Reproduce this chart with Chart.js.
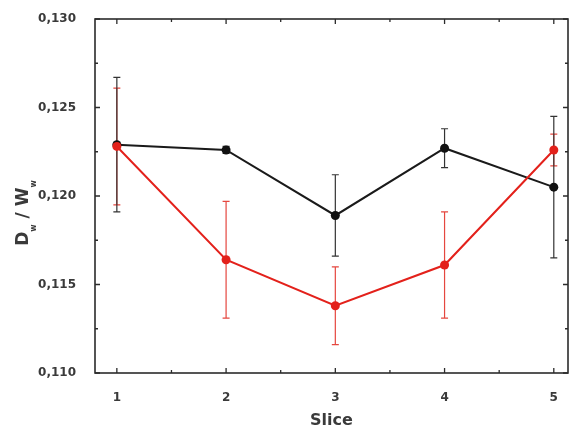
<!DOCTYPE html>
<html>
<head>
<meta charset="utf-8">
<script src="https://cdn.jsdelivr.net/npm/chart.js@4/dist/chart.umd.min.js"></script>
<style>
  html, body { margin: 0; padding: 0; background: #fff; overflow: hidden; }
  canvas { display: block; }
</style>
</head>
<body>
<canvas id="sliceChart" width="569" height="430"></canvas>
<script>
// slice positions and tick values
const slices = [1, 2, 3, 4, 5];
const xTicks = [1, 2, 3, 4, 5];
const yTicks = [0.110, 0.115, 0.120, 0.125, 0.130];

// black series: mean and half-width of the error bar
const blackMean = [0.1229, 0.1226, 0.1189, 0.1227, 0.1205];
const blackErr = [0.0038, 0.0002, 0.0023, 0.0011, 0.0040];

// red series
const redMean = [0.1228, 0.1164, 0.1138, 0.1161, 0.1226];
const redErr = [0.0033, 0.0033, 0.0022, 0.0030, 0.0009];

const AXIS = '#2b2b2b';
const TEXT = '#3a3a3a';
const FONT = '"DejaVu Sans", Verdana, sans-serif';

const toPoints = (xs, ys) => xs.map((x, i) => ({ x: x, y: ys[i] }));

// error bars, frame, inward ticks and the y title
const framePlugin = {
  id: 'frame',
  beforeDatasetsDraw(chart) {
    const ctx = chart.ctx;
    const xs = chart.scales.x, ys = chart.scales.y;
    chart.data.datasets.forEach(ds => {
      ctx.save();
      ctx.strokeStyle = ds.errColor;
      ctx.lineWidth = 1.2;
      ds.data.forEach((p, i) => {
        const px = xs.getPixelForValue(p.x);
        const top = ys.getPixelForValue(p.y + ds.errors[i]);
        const bot = ys.getPixelForValue(p.y - ds.errors[i]);
        ctx.beginPath();
        ctx.moveTo(px, top); ctx.lineTo(px, bot);
        ctx.moveTo(px - 3.5, top); ctx.lineTo(px + 3.5, top);
        ctx.moveTo(px - 3.5, bot); ctx.lineTo(px + 3.5, bot);
        ctx.stroke();
      });
      ctx.restore();
    });
  },
  afterDraw(chart) {
    const ctx = chart.ctx;
    const a = chart.chartArea;
    const xs = chart.scales.x, ys = chart.scales.y;
    ctx.save();
    ctx.strokeStyle = AXIS;
    ctx.lineWidth = 1.6;
    ctx.strokeRect(a.left, a.top, a.right - a.left, a.bottom - a.top);

    ctx.lineWidth = 1.3;
    ctx.beginPath();
    xTicks.forEach((v, i) => {
      const px = xs.getPixelForValue(v);
      ctx.moveTo(px, a.bottom); ctx.lineTo(px, a.bottom - 5);
      ctx.moveTo(px, a.top); ctx.lineTo(px, a.top + 5);
      if (i < xTicks.length - 1) {
        const mx = xs.getPixelForValue((v + xTicks[i + 1]) / 2);
        ctx.moveTo(mx, a.bottom); ctx.lineTo(mx, a.bottom - 3);
        ctx.moveTo(mx, a.top); ctx.lineTo(mx, a.top + 3);
      }
    });
    yTicks.forEach((v, i) => {
      const py = ys.getPixelForValue(v);
      ctx.moveTo(a.left, py); ctx.lineTo(a.left + 5, py);
      ctx.moveTo(a.right, py); ctx.lineTo(a.right - 5, py);
      if (i < yTicks.length - 1) {
        const my = ys.getPixelForValue((v + yTicks[i + 1]) / 2);
        ctx.moveTo(a.left, my); ctx.lineTo(a.left + 3, my);
        ctx.moveTo(a.right, my); ctx.lineTo(a.right - 3, my);
      }
    });
    ctx.stroke();

    // rotated y title: D_w / W_w
    const parts = [
      { t: 'D', sub: false }, { t: 'w', sub: true },
      { t: ' / ', sub: false }, { t: 'W', sub: false }, { t: 'w', sub: true }
    ];
    const big = 'bold 17px ' + FONT;
    const small = 'bold 8px ' + FONT;
    let total = 0;
    parts.forEach(p => { ctx.font = p.sub ? small : big; p.w = ctx.measureText(p.t).width; total += p.w; });
    ctx.translate(28, 213);
    ctx.rotate(-Math.PI / 2);
    ctx.fillStyle = TEXT;
    ctx.textBaseline = 'alphabetic';
    let x = -total / 2;
    parts.forEach(p => {
      ctx.font = p.sub ? small : big;
      ctx.fillText(p.t, x, p.sub ? 8 : 0);
      x += p.w;
    });
    ctx.restore();
  }
};

new Chart(document.getElementById('sliceChart'), {
  type: 'scatter',
  data: {
    datasets: [
      {
        label: 'red',
        data: toPoints(slices, redMean),
        errors: redErr,
        errColor: '#e5473f',
        showLine: true,
        borderColor: '#e3211b',
        backgroundColor: '#e3211b',
        borderWidth: 2,
        pointRadius: 4.5,
        pointBorderWidth: 0
      },
      {
        label: 'black',
        data: toPoints(slices, blackMean),
        errors: blackErr,
        errColor: '#333333',
        showLine: true,
        borderColor: '#1a1a1a',
        backgroundColor: '#111111',
        borderWidth: 2,
        pointRadius: 4.5,
        pointBorderWidth: 0
      }
    ]
  },
  options: {
    responsive: false,
    animation: false,
    layout: { autoPadding: false, padding: { left: 0, top: 19, right: 1, bottom: 0 } },
    plugins: { legend: { display: false }, tooltip: { enabled: false } },
    scales: {
      x: {
        type: 'linear',
        min: 0.8,
        max: 5.13,
        grid: { display: false },
        border: { display: false },
        afterBuildTicks: s => { s.ticks = xTicks.map(v => ({ value: v })); },
        afterFit: s => { s.height = 57; s.paddingLeft = 0; s.paddingRight = 0; },
        ticks: {
          color: TEXT,
          padding: 10,
          font: { family: FONT, size: 12, weight: 'bold' },
          callback: v => String(v)
        },
        title: {
          display: true,
          text: 'Slice',
          color: TEXT,
          padding: { top: 0, bottom: 0 },
          font: { family: FONT, size: 16, weight: 'bold' }
        }
      },
      y: {
        min: 0.110,
        max: 0.130,
        grid: { display: false },
        border: { display: false },
        afterBuildTicks: s => { s.ticks = yTicks.map(v => ({ value: v })); },
        afterFit: s => { s.width = 95; s.paddingTop = 0; s.paddingBottom = 0; },
        ticks: {
          color: TEXT,
          padding: 11,
          font: { family: FONT, size: 12, weight: 'bold' },
          callback: v => v.toFixed(3).replace('.', ',')
        }
      }
    }
  },
  plugins: [framePlugin]
});
</script>
</body>
</html>
